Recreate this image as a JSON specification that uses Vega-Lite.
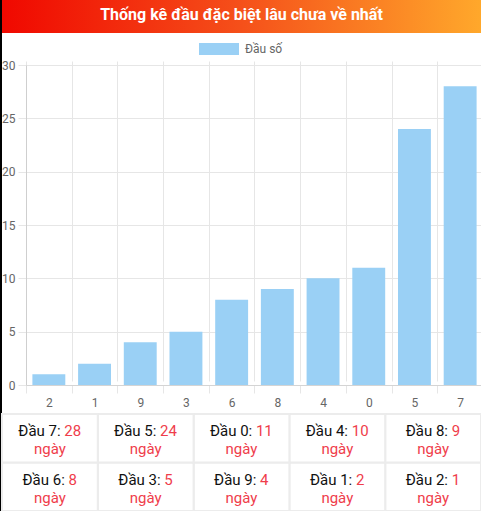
{
  "$schema": "https://vega.github.io/schema/vega-lite/v6.json",
  "description": "Thống kê đầu đặc biệt lâu chưa về nhất",
  "padding": {"left": 1, "right": 1, "top": 0, "bottom": 1},
  "background": "black",
  "spacing": 0,
  "resolve": {"legend": {"color": "independent"}},
  "datasets": {
    "dau": [
      {"dau": "2", "ngay": 1},
      {"dau": "1", "ngay": 2},
      {"dau": "9", "ngay": 4},
      {"dau": "3", "ngay": 5},
      {"dau": "6", "ngay": 8},
      {"dau": "8", "ngay": 9},
      {"dau": "4", "ngay": 10},
      {"dau": "0", "ngay": 11},
      {"dau": "5", "ngay": 24},
      {"dau": "7", "ngay": 28}
    ]
  },
  "vconcat": [
    {
      "width": 479,
      "height": 33,
      "data": {"values": [{"title": "Thống kê đầu đặc biệt lâu chưa về nhất"}]},
      "layer": [
        {
          "mark": {
            "type": "rect",
            "color": {
              "gradient": "linear",
              "x1": 0, "x2": 1, "y1": 0, "y2": 0,
              "stops": [
                {"offset": 0, "color": "#f00800"},
                {"offset": 0.5, "color": "#f5501a"},
                {"offset": 1, "color": "#ffa82b"}
              ]
            }
          },
          "encoding": {}
        },
        {
          "mark": {"type": "text", "color": "white", "font": "Roboto", "fontSize": 16, "fontWeight": "bold", "baseline": "middle", "dy": -2},
          "encoding": {"text": {"field": "title"}}
        }
      ]
    },
    {
      "width": 479,
      "height": 380,
      "data": {"name": "dau"},
      "mark": {"type": "bar", "color": "#9ad0f5"},
      "encoding": {
        "x": {
          "field": "dau",
          "type": "ordinal",
          "sort": null,
          "scale": {"range": [24, 481], "paddingInner": 0.28, "paddingOuter": 0.14},
          "axis": {
            "title": null,
            "offset": -28,
            "labelAngle": 0,
            "bandPosition": 0,
            "tickOffset": -6.4,
            "labelOffset": 6.4,
            "grid": true,
            "gridColor": "#e6e6e6",
            "tickColor": "#e6e6e6",
            "tickSize": 8,
            "domainColor": "#d4d4d4",
            "labelColor": "#666",
            "labelFont": "Roboto",
            "labelFontSize": 12,
            "labelPadding": 4
          }
        },
        "y": {
          "field": "ngay",
          "type": "quantitative",
          "scale": {"domain": [0, 30], "range": [352, 32]},
          "axis": {
            "title": null,
            "offset": -24,
            "values": [0, 5, 10, 15, 20, 25, 30],
            "gridColor": "#e6e6e6",
            "tickColor": "#e6e6e6",
            "tickSize": 8,
            "domainColor": "#cfcfcf",
            "labelColor": "#666",
            "labelFont": "Roboto",
            "labelFontSize": 12,
            "labelPadding": 3
          }
        },
        "color": {
          "datum": "Đầu số",
          "type": "nominal",
          "scale": {"range": ["#9ad0f5"]},
          "legend": {
            "title": null,
            "orient": "none",
            "legendX": 207,
            "legendY": 6,
            "padding": 0,
            "symbolType": "M-2,-0.6H2V0.6H-2Z",
            "symbolSize": 400,
            "symbolStrokeWidth": 0,
            "symbolOpacity": 1,
            "labelOffset": 16,
            "labelColor": "#666",
            "labelFont": "Roboto",
            "labelFontSize": 12
          }
        }
      }
    },
    {
      "width": 479,
      "height": 97,
      "data": {"name": "dau"},
      "transform": [
        {"window": [{"op": "row_number", "as": "rank"}], "sort": [{"field": "ngay", "order": "descending"}]},
        {"calculate": "(datum.rank - 1) % 5", "as": "col"},
        {"calculate": "floor((datum.rank - 1) / 5)", "as": "row"},
        {"calculate": "'Đầu ' + datum.dau + ':'", "as": "prefix"}
      ],
      "encoding": {
        "x": {"field": "col", "type": "ordinal", "axis": null, "scale": {"paddingInner": 0, "paddingOuter": 0}},
        "y": {"field": "row", "type": "ordinal", "axis": null, "scale": {"paddingInner": 0, "paddingOuter": 0}}
      },
      "layer": [
        {"mark": {"type": "rect", "fill": "white", "stroke": "#ececec", "strokeWidth": 2}},
        {
          "transform": [{"filter": "datum.ngay >= 10"}],
          "mark": {"type": "text", "align": "right", "dx": 10.7, "dy": -7, "font": "Roboto", "fontSize": 15, "color": "#111"},
          "encoding": {"text": {"field": "prefix"}}
        },
        {
          "transform": [{"filter": "datum.ngay >= 10"}],
          "mark": {"type": "text", "align": "left", "dx": 14.4, "dy": -7, "font": "Roboto", "fontSize": 15, "color": "#ef3d4b"},
          "encoding": {"text": {"field": "ngay"}}
        },
        {
          "transform": [{"filter": "datum.ngay < 10"}],
          "mark": {"type": "text", "align": "right", "dx": 14.9, "dy": -7, "font": "Roboto", "fontSize": 15, "color": "#111"},
          "encoding": {"text": {"field": "prefix"}}
        },
        {
          "transform": [{"filter": "datum.ngay < 10"}],
          "mark": {"type": "text", "align": "left", "dx": 18.6, "dy": -7, "font": "Roboto", "fontSize": 15, "color": "#ef3d4b"},
          "encoding": {"text": {"field": "ngay"}}
        },
        {
          "mark": {"type": "text", "align": "center", "dy": 11, "font": "Roboto", "fontSize": 15, "color": "#ef3d4b"},
          "encoding": {"text": {"value": "ngày"}}
        }
      ]
    }
  ],
  "config": {
    "view": {"stroke": null, "fill": "white"},
    "font": "Roboto"
  }
}
